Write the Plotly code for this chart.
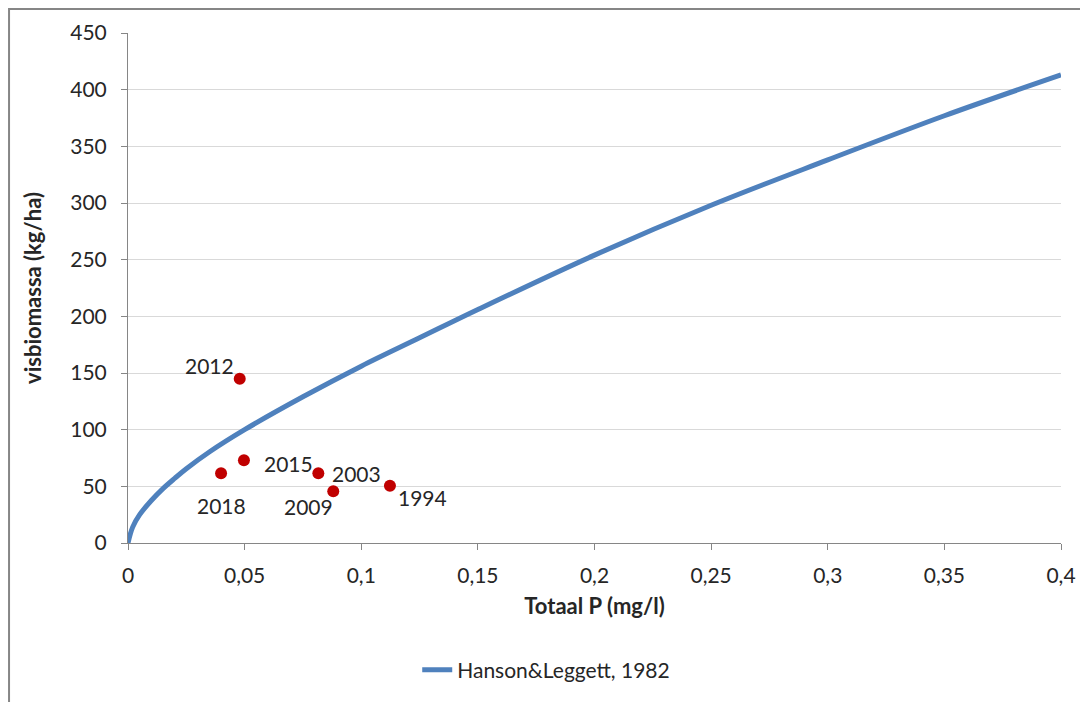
import plotly.graph_objects as go

# Hanson & Leggett (1982) curve
curve_tp = [0, 0.002, 0.005, 0.01, 0.015, 0.02, 0.025, 0.035, 0.05, 0.075, 0.1, 0.125, 0.15, 0.2, 0.25, 0.3, 0.35, 0.4]
curve_fish = [0, 14, 25, 37.5, 48, 57, 65.5, 80.5, 100, 129, 156, 181, 206, 254, 298, 338, 377, 413]

# Observed years
years = ["2012", "2018", "2015", "2003", "2009", "1994"]
obs_tp = [0.0479, 0.0399, 0.0497, 0.0816, 0.0880, 0.1123]
obs_fish = [145, 61.5, 73, 61.5, 45.6, 50.6]

x_ticks = [0, 0.05, 0.1, 0.15, 0.2, 0.25, 0.3, 0.35, 0.4]
x_tick_text = ["0", "0,05", "0,1", "0,15", "0,2", "0,25", "0,3", "0,35", "0,4"]
y_ticks = [0, 50, 100, 150, 200, 250, 300, 350, 400, 450]

FONT = "Lato, Carlito, Calibri, sans-serif"
TXT = "#262626"
FS = 21

fig = go.Figure()
fig.add_trace(go.Scatter(
    x=curve_tp, y=curve_fish, mode="lines", line_shape="spline",
    line=dict(color="#4F81BD", width=5), name="Hanson&Leggett, 1982",
))
fig.add_trace(go.Scatter(
    x=obs_tp, y=obs_fish, mode="markers", showlegend=False,
    marker=dict(color="#C00000", size=12), name="jaren",
))

# label placement: (xanchor, yanchor, xshift, yshift)
label_pos = {
    "2012": ("right", "middle", -4, 13),
    "2018": ("center", "middle", 0, -32),
    "2015": ("left", "middle", 18, -3),
    "2003": ("left", "middle", 12, 0),
    "2009": ("center", "middle", -25, -15),
    "1994": ("left", "middle", 6, -12),
}
for yr, xv, yv in zip(years, obs_tp, obs_fish):
    xa, ya, xs, ys = label_pos[yr]
    fig.add_annotation(x=xv, y=yv, text=yr, showarrow=False, xanchor=xa, yanchor=ya,
                       xshift=xs, yshift=ys, font=dict(family=FONT, size=FS, color=TXT))

# chart border
fig.add_shape(type="rect", xref="paper", yref="paper", x0=-0.1275, y0=1.047, x1=1.05, y1=-0.34,
              line=dict(color="#868686", width=2), fillcolor="rgba(0,0,0,0)", layer="below")

fig.update_layout(
    width=1080, height=694,
    margin=dict(l=120, r=27, t=25, b=159),
    paper_bgcolor="white", plot_bgcolor="white",
    font=dict(family=FONT, size=FS, color=TXT),
    showlegend=True,
    legend=dict(orientation="h", x=0.31, xanchor="left", y=-0.249, yanchor="middle",
                font=dict(family=FONT, size=FS, color=TXT), bgcolor="rgba(0,0,0,0)"),
    xaxis=dict(range=[0, 0.4], tickvals=x_ticks, ticktext=x_tick_text,
               showgrid=False, zeroline=False, showline=True, linecolor="#868686", linewidth=1,
               ticks="outside", ticklen=6, tickcolor="#868686", ticklabelstandoff=8,
               title=dict(text="<b>Totaal P (mg/l)</b>", font=dict(family=FONT, size=22, color=TXT), standoff=12)),
    yaxis=dict(range=[0, 450], tickvals=y_ticks,
               showgrid=True, gridcolor="#D9D9D9", gridwidth=1, zeroline=False,
               showline=True, linecolor="#868686", linewidth=1,
               ticks="outside", ticklen=6, tickcolor="#868686", ticklabelstandoff=10,
               title=dict(text="<b>visbiomassa (kg/ha)</b>", font=dict(family=FONT, size=22, color=TXT), standoff=22)),
)

fig.write_html("out.html")
